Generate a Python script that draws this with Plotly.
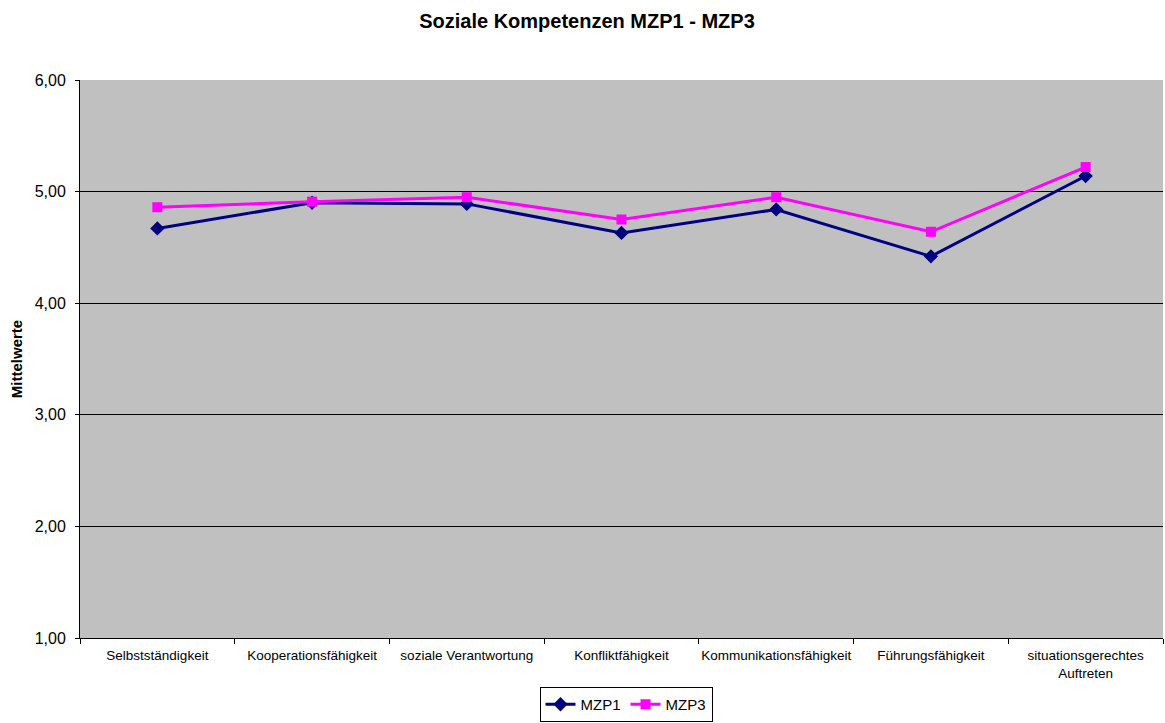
import plotly.graph_objects as go

categories = ["Selbstständigkeit", "Kooperationsfähigkeit", "soziale Verantwortung",
              "Konfliktfähigkeit", "Kommunikationsfähigkeit", "Führungsfähigkeit",
              "situationsgerechtes<br>Auftreten"]
mzp1 = [4.67, 4.90, 4.89, 4.63, 4.84, 4.42, 5.14]
mzp3 = [4.86, 4.91, 4.95, 4.75, 4.95, 4.64, 5.22]

fig = go.Figure()
fig.add_trace(go.Scatter(x=categories, y=mzp1, name="MZP1", mode="lines+markers",
                         line=dict(color="#000080", width=3),
                         marker=dict(symbol="diamond", size=11, color="#000080")))
fig.add_trace(go.Scatter(x=categories, y=mzp3, name="MZP3", mode="lines+markers",
                         line=dict(color="#FF00FF", width=3),
                         marker=dict(symbol="square", size=10, color="#FF00FF")))

fig.update_layout(
    width=1165, height=723,
    margin=dict(l=80, r=2, t=80, b=85, autoexpand=False),
    paper_bgcolor="white", plot_bgcolor="#C0C0C0",
    separators=",.",
    font=dict(family="Liberation Sans, Arial, sans-serif", color="black"),
    title=dict(text="<b>Soziale Kompetenzen MZP1 - MZP3</b>", x=587 / 1165, xanchor="center",
               y=1 - 21 / 723, yanchor="middle", font=dict(size=20)),
    showlegend=True,
    legend=dict(orientation="h", x=626 / 1165, xanchor="center", xref="container",
                y=1 / 723, yanchor="bottom", yref="container",
                bordercolor="black", borderwidth=1, font=dict(size=15),
                itemwidth=30, tracegroupgap=0),
    xaxis=dict(type="category", showgrid=False, showline=True, linecolor="black",
               linewidth=1, ticks="outside", tickson="boundaries", ticklen=5,
               tickcolor="black", tickfont=dict(size=13.5), tickangle=0,
               ticklabelstandoff=5,
               range=[-0.5, 6.5], automargin=False),
    yaxis=dict(range=[1, 6], dtick=1, tickformat=".2f", showgrid=True, gridcolor="black",
               gridwidth=1, showline=True, linecolor="black", linewidth=1,
               ticks="outside", ticklen=4, tickcolor="black", tickfont=dict(size=16),
               ticklabelstandoff=6,
               zeroline=False, automargin=False,
               title=dict(text="<b>Mittelwerte</b>", font=dict(size=15), standoff=8)),
)

fig.write_html("out.html", config={"displayModeBar": False},
               post_script="document.body.style.margin='0';")
